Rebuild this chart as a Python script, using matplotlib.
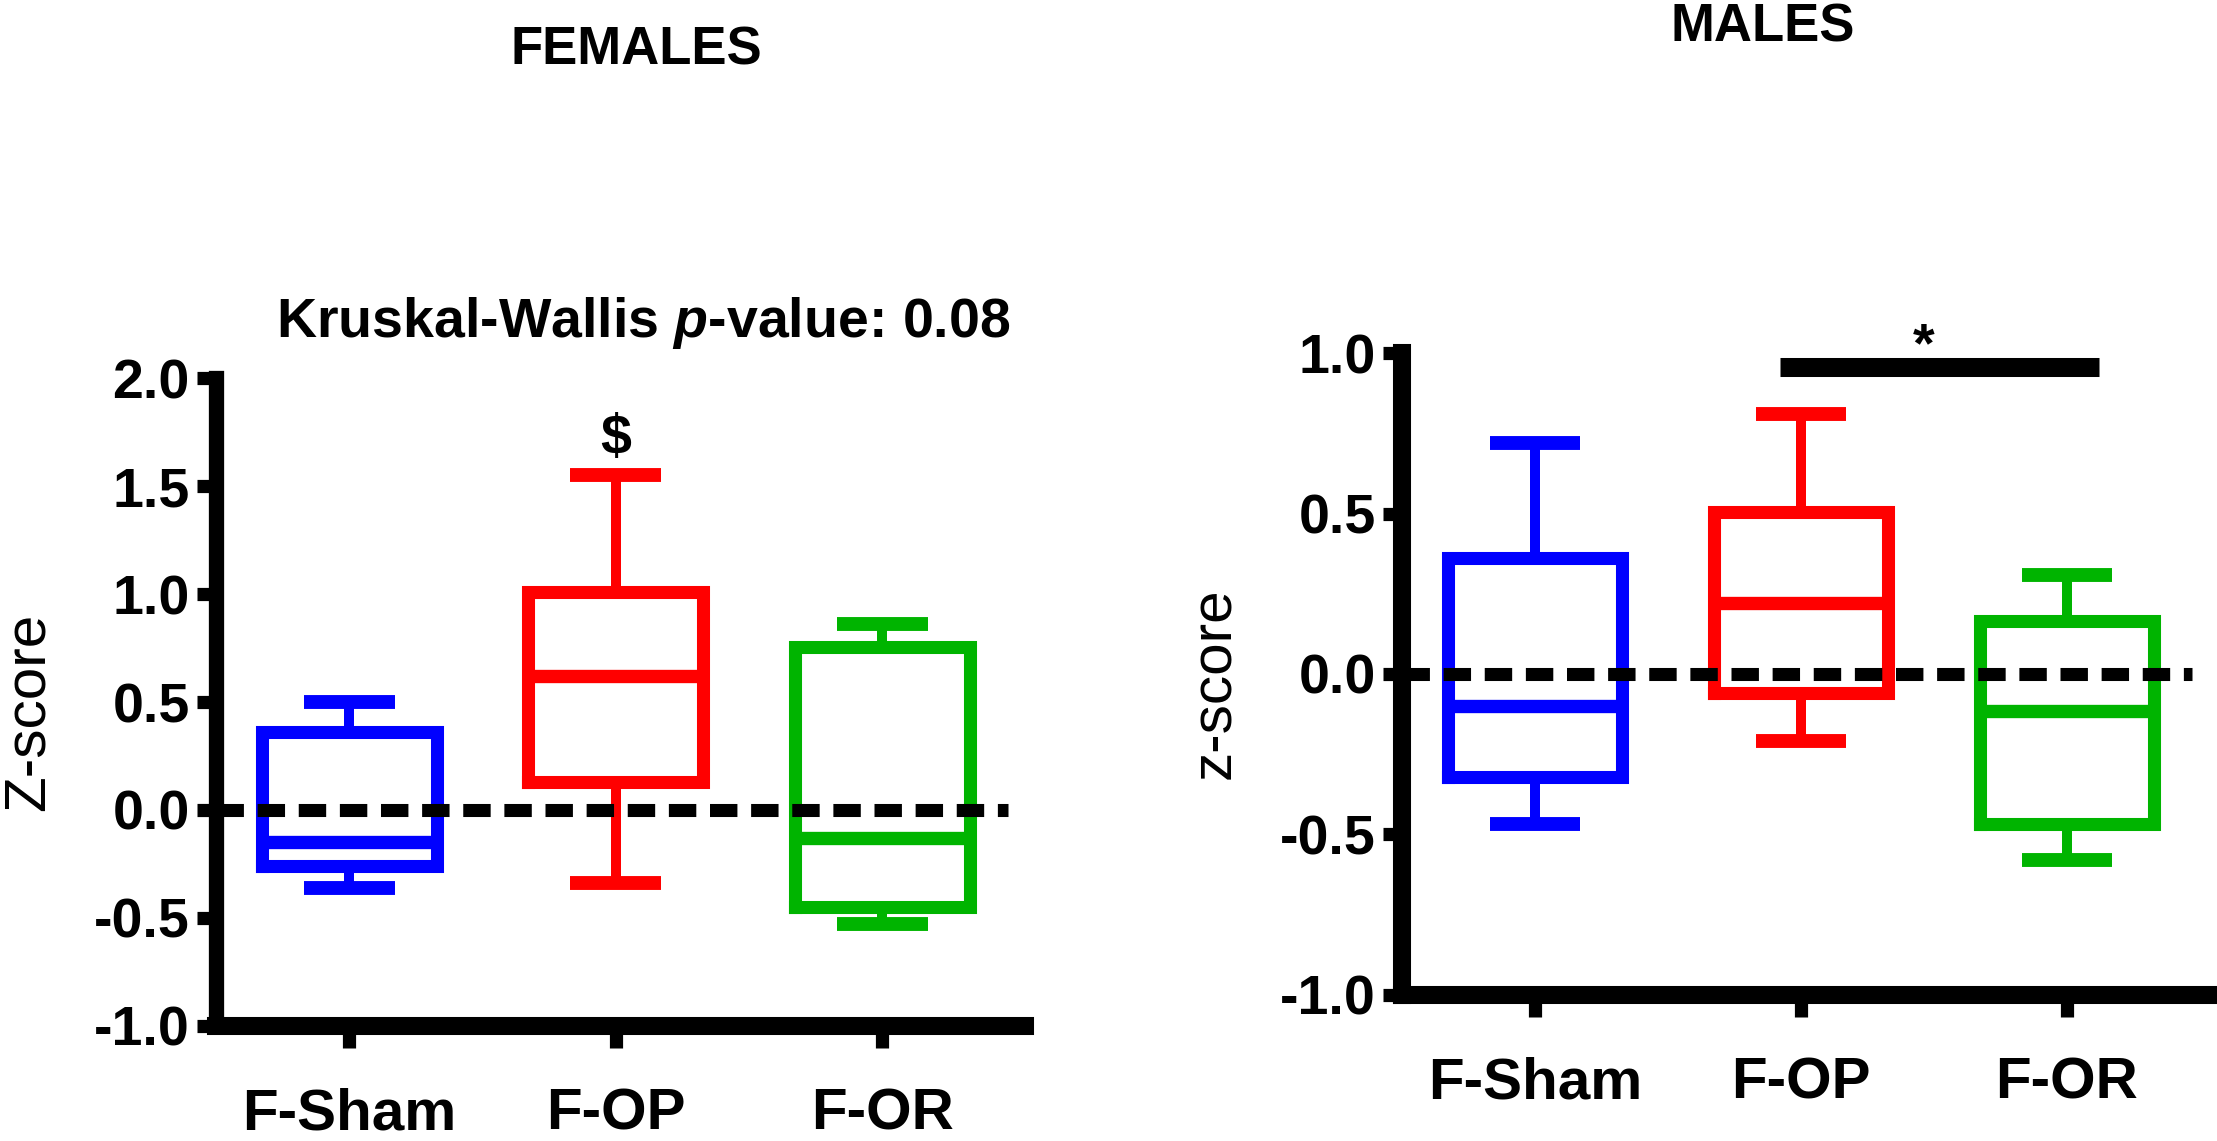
import matplotlib
matplotlib.use("Agg")
import matplotlib.pyplot as plt

# ---------------- data ----------------
groups = ["F-Sham", "F-OP", "F-OR"]
colors = ["#0000FF", "#FF0000", "#00B400"]

female_whislo = [-0.36, -0.34, -0.53]
female_q1 = [-0.26, 0.13, -0.45]
female_med = [-0.15, 0.62, -0.13]
female_q3 = [0.36, 1.01, 0.755]
female_whishi = [0.50, 1.55, 0.86]

male_whislo = [-0.467, -0.21, -0.58]
male_q1 = [-0.32, -0.06, -0.467]
male_med = [-0.10, 0.22, -0.115]
male_q3 = [0.36, 0.505, 0.165]
male_whishi = [0.72, 0.81, 0.308]

female_yticks = [-1.0, -0.5, 0.0, 0.5, 1.0, 1.5, 2.0]
male_yticks = [-1.0, -0.5, 0.0, 0.5, 1.0]

female_title = "FEMALES"
male_title = "MALES"
kw_text = r"Kruskal-Wallis $\mathit{p}$-value: 0.08"
female_mark = "$"
male_mark = "*"
sig_pair = [1.92, 3.12]
sig_level = 0.956

# ---------------- style ----------------
plt.rcParams["font.family"] = ["Liberation Sans", "DejaVu Sans"]
plt.rcParams["axes.unicode_minus"] = False
plt.rcParams["mathtext.fontset"] = "custom"
plt.rcParams["mathtext.it"] = "Liberation Sans:italic:bold"
plt.rcParams["mathtext.rm"] = "Liberation Sans:bold"

fig = plt.figure(figsize=(22.17, 11.41), dpi=100)
axL = fig.add_axes([0.0974, 0.1008, 0.3649, 0.5679])
axR = fig.add_axes([0.6324, 0.1280, 0.3640, 0.5626])


def make_stats(lo, q1, med, q3, hi):
    return [dict(whislo=a, q1=b, med=c, q3=d, whishi=e, label=g)
            for a, b, c, d, e, g in zip(lo, q1, med, q3, hi, groups)]


def draw_panel(ax, stats, yticks, ylim, ylabel):
    for i, (st, col) in enumerate(zip(stats, colors)):
        ax.bxp([st], positions=[i + 1], widths=0.655, capwidths=0.34,
               showfliers=False, manage_ticks=False,
               boxprops=dict(color=col, linewidth=9.4, solid_joinstyle="miter",
                             solid_capstyle="projecting"),
               whiskerprops=dict(color=col, linewidth=7.2, solid_capstyle="butt"),
               capprops=dict(color=col, linewidth=10, solid_capstyle="butt"),
               medianprops=dict(color=col, linewidth=9.6, solid_capstyle="butt"))
    ax.set_xlim(0.5, 3.535)
    ax.set_ylim(*ylim)
    ax.plot([0.5, 3.47], [0, 0], color="black", linewidth=9.4,
            linestyle=(0, (2.1, 1.05)), dash_capstyle="butt", zorder=5)
    ax.set_xticks([1, 2, 3])
    ax.set_xticklabels(groups, fontsize=42, fontweight="bold")
    ax.set_yticks(yticks)
    ax.set_yticklabels(["%.1f" % v for v in yticks], fontsize=40, fontweight="bold")
    for s in ["top", "right"]:
        ax.spines[s].set_visible(False)
    ax.spines["left"].set_linewidth(11)
    ax.spines["bottom"].set_linewidth(13)
    ax.tick_params(axis="y", length=14, width=9.5, pad=5, direction="out")
    ax.tick_params(axis="x", length=16, width=9.5, pad=28, direction="out")
    ax.text(-0.232, 0.485, ylabel, transform=ax.transAxes, rotation=90,
            ha="center", va="center", fontsize=42)


draw_panel(axL, make_stats(female_whislo, female_q1, female_med, female_q3, female_whishi),
           female_yticks, (-1.0, 2.0), "Z-score")
draw_panel(axR, make_stats(male_whislo, male_q1, male_med, male_q3, male_whishi),
           male_yticks, (-1.0, 1.0), "z-score")
axR.spines["left"].set_linewidth(13)

# annotations
axL.text(2, 1.65, female_mark, ha="center", va="baseline", fontsize=40,
         fontweight="bold")
axR.plot(sig_pair, [sig_level, sig_level], color="black", linewidth=13.7,
         solid_capstyle="butt", clip_on=False)
axR.text(sum(sig_pair) / 2 - 0.06, 0.975, male_mark, ha="center", va="baseline",
         fontsize=40, fontweight="bold", clip_on=False)

fig.text(0.287, 0.9439, female_title, ha="center", va="baseline", fontsize=38,
         fontweight="bold")
fig.text(0.795, 0.9632, male_title, ha="center", va="baseline", fontsize=38,
         fontweight="bold")
fig.text(0.290, 0.7046, kw_text, ha="center", va="baseline", fontsize=40,
         fontweight="bold")

fig.savefig("out.png", dpi=100, facecolor="white")
